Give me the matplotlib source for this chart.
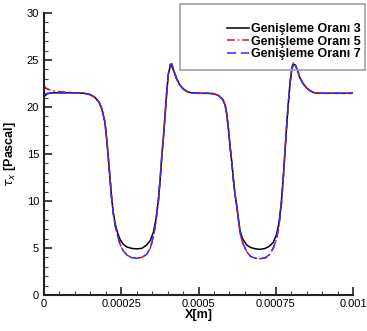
import matplotlib.pyplot as plt
import matplotlib.ticker as mticker
from matplotlib.patches import Rectangle

plt.rcParams['font.family'] = ['Liberation Sans', 'DejaVu Sans']

# --- data ---
x_m = [0, 0.00001, 0.00003, 0.00006, 0.0001, 0.00013, 0.00015, 0.000165, 0.000178,
       0.000187, 0.000197, 0.000203, 0.000209, 0.000214, 0.000219, 0.000224, 0.00023,
       0.000238, 0.000246, 0.000256, 0.000268, 0.000284, 0.0003, 0.000316, 0.000332,
       0.000344, 0.000354, 0.000362, 0.00037, 0.000376, 0.000381, 0.000387, 0.000392,
       0.000397, 0.000402, 0.000408, 0.000413, 0.00042, 0.000429, 0.00044, 0.000451,
       0.000462, 0.000475, 0.0005, 0.00053, 0.00055, 0.000565, 0.000578, 0.000586,
       0.000591, 0.000597, 0.000602, 0.000608, 0.000613, 0.000618, 0.000624, 0.000629,
       0.000634, 0.000642, 0.000656, 0.000668, 0.000684, 0.0007, 0.000716, 0.00073,
       0.000742, 0.000752, 0.00076, 0.000768, 0.000775, 0.00078, 0.000785, 0.00079,
       0.000796, 0.000802, 0.000807, 0.000812, 0.00082, 0.000828, 0.000838, 0.00085,
       0.000862, 0.000875, 0.0009, 0.00095, 0.001]

tau_3 = [21.1, 21.4, 21.5, 21.5, 21.5, 21.45, 21.3, 21.0, 20.5,
         19.8, 18.4, 16.5, 14.2, 12.2, 10.2, 8.8, 7.6,
         6.6, 5.9, 5.4, 5.1, 4.95, 4.9, 4.95, 5.3,
         5.8, 6.7, 8.0, 10.1, 12.4, 14.7, 17.0, 19.3,
         21.5, 23.4, 24.3, 24.4, 23.8, 23.0, 22.3, 21.9,
         21.65, 21.5, 21.45, 21.45, 21.4, 21.2, 20.8, 20.2,
         19.3, 17.6, 15.8, 14.0, 12.2, 10.7, 9.4, 8.1,
         6.9, 6.0, 5.3, 5.05, 4.9, 4.85, 4.95, 5.2,
         5.6, 6.4, 7.6, 9.9, 12.9, 15.4, 17.9, 20.2,
         22.5, 24.0, 24.5, 24.5, 23.9, 23.1, 22.5, 22.0,
         21.7, 21.5, 21.45, 21.45, 21.45]

tau_5 = [22.2, 21.9, 21.7, 21.6, 21.5, 21.45, 21.3, 21.0, 20.5,
         19.8, 18.4, 16.5, 14.2, 12.2, 10.2, 8.7, 7.4,
         6.3, 5.4, 4.7, 4.25, 3.95, 3.9, 4.0, 4.3,
         5.0, 6.2, 7.8, 10.0, 12.4, 14.7, 17.0, 19.3,
         21.6, 23.5, 24.5, 24.6, 23.9, 23.0, 22.3, 21.9,
         21.65, 21.5, 21.45, 21.45, 21.4, 21.2, 20.8, 20.2,
         19.3, 17.6, 15.8, 14.0, 12.2, 10.7, 9.4, 8.0,
         6.7, 5.6, 4.6, 4.1, 3.9, 3.85, 3.95, 4.3,
         5.0, 5.9, 7.3, 9.6, 12.8, 15.4, 17.9, 20.2,
         22.6, 24.2, 24.7, 24.6, 23.9, 23.1, 22.5, 22.0,
         21.7, 21.5, 21.45, 21.45, 21.45]

tau_7 = [21.3, 21.45, 21.5, 21.5, 21.5, 21.45, 21.3, 21.0, 20.5,
         19.8, 18.4, 16.5, 14.2, 12.2, 10.2, 8.7, 7.4,
         6.3, 5.4, 4.7, 4.25, 3.95, 3.9, 4.0, 4.3,
         5.0, 6.2, 7.8, 10.0, 12.4, 14.7, 17.0, 19.3,
         21.6, 23.5, 24.5, 24.6, 23.9, 23.0, 22.3, 21.9,
         21.65, 21.5, 21.45, 21.45, 21.4, 21.2, 20.8, 20.2,
         19.3, 17.6, 15.8, 14.0, 12.2, 10.7, 9.4, 8.0,
         6.7, 5.6, 4.6, 4.1, 3.9, 3.85, 3.95, 4.3,
         5.0, 5.9, 7.3, 9.6, 12.8, 15.4, 17.9, 20.2,
         22.6, 24.2, 24.7, 24.6, 23.9, 23.1, 22.5, 22.0,
         21.7, 21.5, 21.45, 21.45, 21.45]

labels = ['Genişleme Oranı 3', 'Genişleme Oranı 5', 'Genişleme Oranı 7']
x_ticks = [0, 0.00025, 0.0005, 0.00075, 0.001]
x_tick_labels = ['0', '0.00025', '0.0005', '0.00075', '0.001']

# --- figure ---
fig = plt.figure(figsize=(3.67, 3.31), dpi=100)
ax = fig.add_axes([0.12, 0.109, 0.842, 0.852])

ax.plot(x_m, tau_3, color='black', lw=1.1, label=labels[0])
ax.plot(x_m, tau_5, color='#e01010', lw=1.1, dashes=(5, 2, 1, 2), label=labels[1])
ax.plot(x_m, tau_7, color='#3030ff', lw=1.1, dashes=(6, 3), label=labels[2])

ax.set_xlim(0, 0.001)
ax.set_ylim(0, 30)
ax.set_xticks(x_ticks)
ax.set_xticklabels(x_tick_labels)
ax.set_yticks([0, 5, 10, 15, 20, 25, 30])
ax.xaxis.set_minor_locator(mticker.MultipleLocator(0.00005))
ax.yaxis.set_minor_locator(mticker.MultipleLocator(1))
ax.tick_params(which='major', direction='in', length=6, width=1.2, labelsize=8, color='#222222')
ax.tick_params(which='minor', direction='in', length=3, width=0.8, color='#444444')
ax.tick_params(axis='x', pad=3)

for side in ['top', 'right']:
    ax.spines[side].set_visible(False)
for side in ['left', 'bottom']:
    ax.spines[side].set_linewidth(1.5)
    ax.spines[side].set_color('#222222')

ax.set_xlabel('X[m]', fontsize=9, fontweight='bold', labelpad=0)
ax.set_ylabel(r'$\tau_x$ [Pascal]', fontsize=9, fontweight='bold', labelpad=6)

# legend frame, Tecplot style
fig.patches.append(Rectangle((180 / 367, 1 - 70 / 331), 185 / 367, 66 / 331,
                             transform=fig.transFigure, fill=False,
                             edgecolor='#a0a0a0', lw=1.2))
leg = fig.legend(loc='upper right', bbox_to_anchor=(0.997, 0.945), frameon=False,
                 fontsize=9, handlelength=1.8, handletextpad=0.15, labelspacing=0.05,
                 borderaxespad=0)
for t in leg.get_texts():
    t.set_fontweight('bold')

fig.savefig('out.png', dpi=100)
